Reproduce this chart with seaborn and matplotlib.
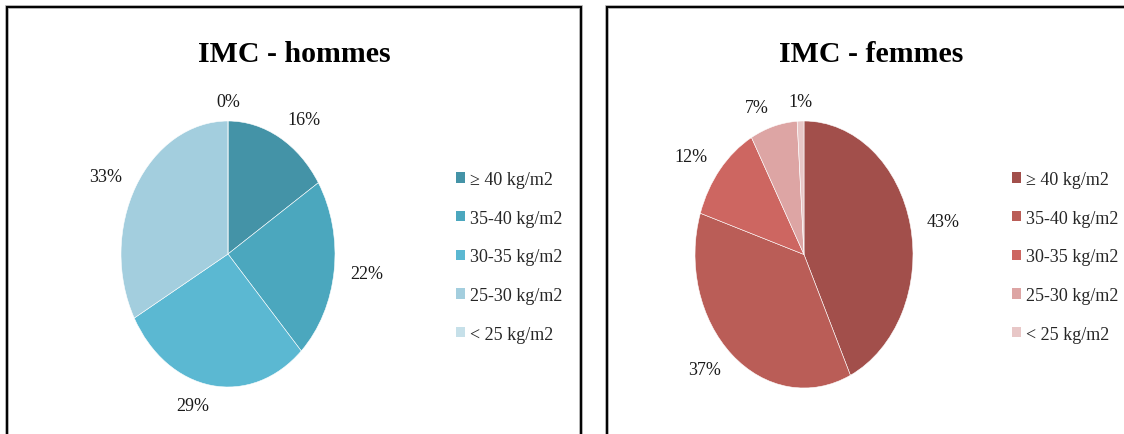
import matplotlib
matplotlib.use("Agg")
import matplotlib.pyplot as plt
from matplotlib.patches import Rectangle, Patch
import seaborn as sns

# IMC categories and shares (%) for each group
categories = ["≥ 40 kg/m2", "35-40 kg/m2", "30-35 kg/m2", "25-30 kg/m2", "< 25 kg/m2"]
hommes = [16, 22, 29, 33, 0]
femmes = [43, 37, 12, 7, 1]
titles = ["IMC - hommes", "IMC - femmes"]

blues = ["#4493A7", "#4BA7BE", "#5BB8D2", "#A3CEDE", "#C6E0E9"]
reds = ["#A24F4B", "#BA5D57", "#CD6661", "#DDA5A4", "#E8C7C7"]

sns.set_theme(style="white")
plt.rcParams["font.family"] = ["Liberation Serif", "DejaVu Serif"]

W, H = 1124, 435
fig = plt.figure(figsize=(W / 100, H / 100), dpi=100)


def px_axes(x0, y0, x1, y1):
    """Axes from pixel box (top-left origin)."""
    return fig.add_axes([x0 / W, (H - y1) / H, (x1 - x0) / W, (y1 - y0) / H])


panels = [
    dict(frame=(7, 8, 581), title_x=294, pie=(121, 122, 335, 388), legend=(456, 172),
         values=hommes, colors=blues, title=titles[0]),
    dict(frame=(607, 8, 1150), title_x=871, pie=(695, 122, 913, 389), legend=(1012, 172),
         values=femmes, colors=reds, title=titles[1]),
]

for p in panels:
    fx0, fy0, fx1 = p["frame"]
    # chart frame (bottom edge runs off the canvas)
    box = ((fx0 / W, -0.2), (fx1 - fx0) / W, (H - fy0) / H + 0.2)
    fig.patches.append(Rectangle(*box, transform=fig.transFigure, fill=False,
                                 edgecolor="#a0a0a0", linewidth=2.6, zorder=0))
    fig.patches.append(Rectangle(*box, transform=fig.transFigure, fill=False,
                                 edgecolor="black", linewidth=1.4, zorder=1))

    fig.text(p["title_x"] / W, 1 - 54 / H, p["title"], ha="center", va="center",
             fontsize=21.5, fontweight="bold", color="black")

    ax = px_axes(*p["pie"])
    vals = p["values"]
    wedges, texts = ax.pie(vals, colors=p["colors"], startangle=90, counterclock=False,
                           labels=[f"{v}%" for v in vals], labeldistance=1.15,
                           wedgeprops=dict(edgecolor="white", linewidth=0.4),
                           textprops=dict(fontsize=13, color="#1a1a1a"))
    for t in texts:
        if abs(t.get_position()[0]) < 0.15:
            t.set_horizontalalignment("center")
    ax.set_aspect("auto")
    ax.set_xlim(-1, 1)
    ax.set_ylim(-1, 1)
    ax.axis("off")

    lx, ly = p["legend"]
    handles = [Patch(facecolor=c, edgecolor="none") for c in p["colors"]]
    fig.legend(handles, categories, loc="upper left",
               bbox_to_anchor=(lx / W, 1 - ly / H), frameon=False,
               fontsize=13, handlelength=0.5, handleheight=0.5,
               handletextpad=0.3, labelspacing=1.2, borderaxespad=0,
               borderpad=0)

fig.savefig("out.png", dpi=100)
